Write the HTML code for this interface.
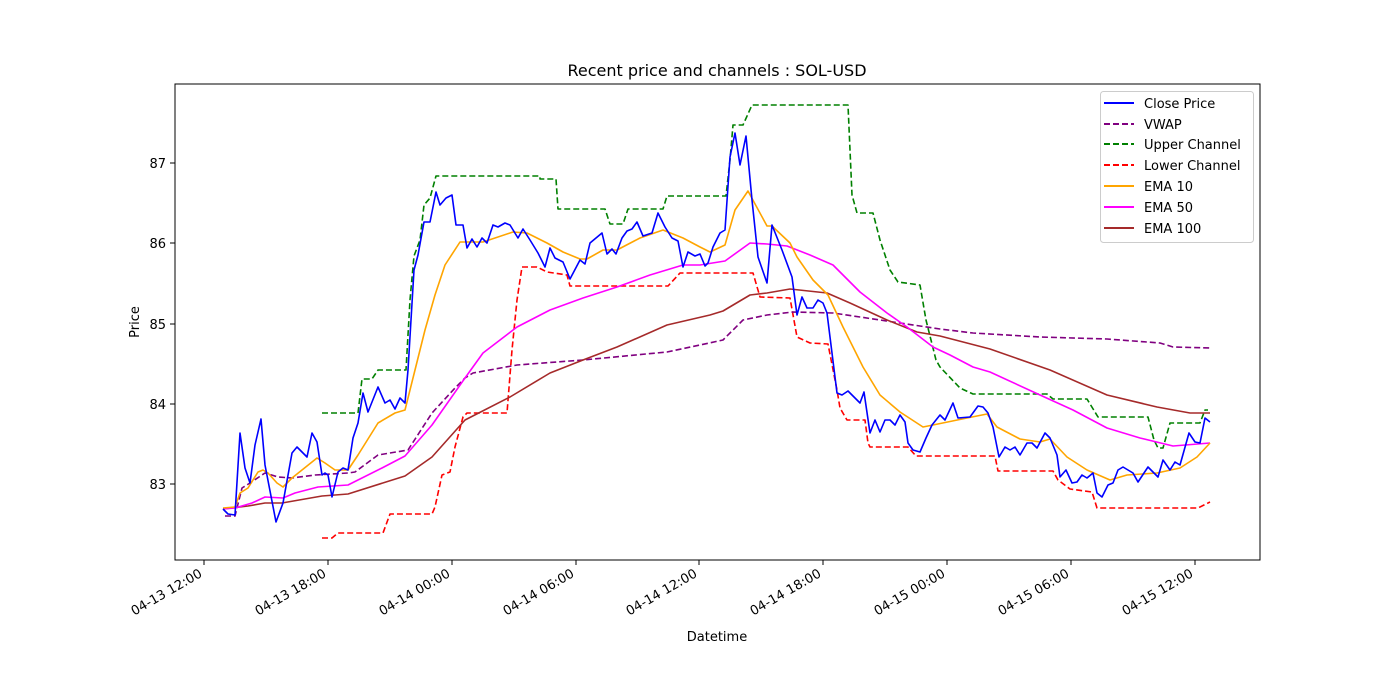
<!DOCTYPE html>
<html><head><style>body{margin:0;background:#fff}svg{display:block}text{font-family:"DejaVu Sans","Liberation Sans",sans-serif;fill:#000}</style></head><body>
<svg width="1400" height="700" xmlns="http://www.w3.org/2000/svg">
<rect width="1400" height="700" fill="#fff"/>
<text x="717" y="76" font-size="16" text-anchor="middle">Recent price and channels : SOL-USD</text>
<g fill="none" stroke-width="1.6" stroke-linejoin="round">
<polyline stroke="#008000" stroke-dasharray="6,3" points="322,413 358,413 362,379 372,379 378,370 406,370 410,300 414,256 420,240 424,205 430,198 436,176 540,176 540,179 556,179 558,209 605,209 610,224 623,224 628,209 663,209 667,196 726,196 730,160 733,125 743,125 752,105 848,105 852,195 857,213 873,213 880,240 890,270 898,282 920,285 926,320 936,360 940,367 960,388 973,394 1047,394 1053,399 1087,399 1098,417 1148,417 1154,440 1158,448 1163,448 1170,423 1200,423 1205,410 1208,410"/>
<polyline stroke="#ff0000" stroke-dasharray="6,3" points="322,538 332,538 338,533 383,533 390,514 432,514 435,507 442,475 450,472 455,447 463,417 467,413 507,413 512,350 517,300 522,267 537,267 547,272 567,275 570,286 668,286 680,273 753,273 760,297 790,298 797,337 810,343 828,344 837,390 840,408 847,420 865,420 868,443 870,447 908,447 916,456 995,456 998,471 1053,471 1058,480 1070,489 1092,492 1097,508 1198,508 1210,502"/>
<polyline stroke="#800080" stroke-dasharray="6,3" points="225,516 235,516 242,488 250,483 265,473 278,477 292,478 315,475 348,473 355,472 378,455 408,450 432,413 455,388 465,378 473,373 517,365 583,360 667,352 700,345 723,340 743,320 767,315 793,312 833,313 860,317 900,323 940,329 973,333 1040,337 1107,339 1160,343 1173,347 1210,348"/>
<polyline stroke="#a52a2a" points="223,509 248,506 265,503 282,503 322,496 348,494 405,476 432,457 465,420 510,397 550,373 583,360 617,347 667,325 710,315 723,311 750,295 767,293 790,289 827,293 850,303 887,320 917,332 940,336 990,349 1050,370 1107,395 1157,407 1190,413 1210,413"/>
<polyline stroke="#ff00ff" points="223,509 235,508 252,503 265,497 283,498 295,493 318,487 348,485 382,468 405,456 432,425 465,378 483,353 517,327 550,310 583,298 617,287 650,275 683,265 700,265 725,261 750,243 767,244 787,246 810,255 833,265 860,292 887,313 907,327 933,347 950,355 973,367 990,372 1040,395 1073,410 1107,428 1140,438 1173,446 1210,443"/>
<polyline stroke="#ffa500" points="223,508 235,507 240,493 248,488 258,472 263,470 268,473 277,483 283,487 292,478 302,470 317,458 325,463 335,470 348,470 358,455 378,423 395,413 405,410 415,370 425,330 435,295 445,265 460,242 483,242 513,232 527,233 547,243 563,252 580,259 587,259 603,250 617,250 640,238 663,230 683,238 700,247 710,252 725,245 735,210 748,191 767,226 772,226 790,243 797,257 813,280 828,295 843,327 863,367 880,395 900,412 923,427 933,425 967,418 987,414 997,427 1020,439 1040,442 1050,439 1067,457 1087,470 1110,480 1127,475 1157,473 1180,468 1197,457 1210,443"/>
<polyline stroke="#0000ff" points="223,509 228,514 235,515 240,433 245,468 250,483 255,445 261,419 265,465 276,522 283,503 292,453 297,447 307,457 312,433 317,442 322,475 325,473 328,475 332,497 338,472 343,468 348,470 353,438 358,423 363,393 368,412 378,387 385,403 390,400 395,409 400,398 405,403 408,370 414,270 418,255 424,222 430,222 436,192 440,205 446,198 452,195 456,225 463,225 467,248 472,239 477,247 482,238 487,243 493,225 498,227 505,223 510,225 518,238 523,229 530,240 538,253 545,267 550,248 555,258 563,262 570,279 580,260 585,264 590,243 602,233 607,254 612,249 616,254 622,238 627,231 632,229 637,222 643,236 652,233 658,213 665,227 672,238 678,241 683,267 688,252 695,256 700,254 705,266 708,263 713,247 720,233 725,230 730,157 735,133 740,165 746,136 752,200 758,257 767,283 772,225 782,250 792,277 797,315 802,297 807,308 813,308 818,300 823,303 827,313 837,393 842,395 848,391 860,403 864,392 870,433 875,420 880,432 885,420 890,420 895,425 900,415 905,422 908,443 913,450 920,452 926,438 932,425 940,415 945,420 953,403 958,418 970,417 978,406 983,407 988,413 993,427 999,457 1005,447 1010,450 1015,447 1020,455 1027,443 1032,443 1037,448 1045,433 1050,438 1057,455 1060,477 1066,470 1072,483 1077,482 1082,475 1087,478 1093,473 1097,493 1102,497 1108,485 1113,483 1118,470 1123,467 1133,473 1138,482 1148,467 1158,477 1163,460 1170,470 1175,462 1180,465 1189,433 1195,442 1200,443 1205,418 1210,422"/>
</g>
<rect x="175" y="84" width="1085" height="476" fill="none" stroke="#000" stroke-width="1"/>
<g stroke="#000">
<line x1="170" y1="484" x2="175" y2="484"/><line x1="170" y1="404" x2="175" y2="404"/><line x1="170" y1="324" x2="175" y2="324"/><line x1="170" y1="243" x2="175" y2="243"/><line x1="170" y1="163" x2="175" y2="163"/>
<line x1="204" y1="560" x2="204" y2="565"/><line x1="328" y1="560" x2="328" y2="565"/><line x1="452" y1="560" x2="452" y2="565"/><line x1="576" y1="560" x2="576" y2="565"/><line x1="699" y1="560" x2="699" y2="565"/><line x1="823" y1="560" x2="823" y2="565"/><line x1="947" y1="560" x2="947" y2="565"/><line x1="1071" y1="560" x2="1071" y2="565"/><line x1="1195" y1="560" x2="1195" y2="565"/>
</g>
<g font-size="13" text-anchor="end">
<text x="166" y="489">83</text><text x="166" y="409">84</text><text x="166" y="329">85</text><text x="166" y="248">86</text><text x="166" y="168">87</text>
</g>
<g font-size="13" text-anchor="end">
<text transform="translate(203,576) rotate(-30)">04-13 12:00</text>
<text transform="translate(327,576) rotate(-30)">04-13 18:00</text>
<text transform="translate(451,576) rotate(-30)">04-14 00:00</text>
<text transform="translate(575,576) rotate(-30)">04-14 06:00</text>
<text transform="translate(698,576) rotate(-30)">04-14 12:00</text>
<text transform="translate(822,576) rotate(-30)">04-14 18:00</text>
<text transform="translate(946,576) rotate(-30)">04-15 00:00</text>
<text transform="translate(1070,576) rotate(-30)">04-15 06:00</text>
<text transform="translate(1194,576) rotate(-30)">04-15 12:00</text>
</g>
<text x="717" y="641" font-size="13" text-anchor="middle">Datetime</text>
<text transform="translate(139,322) rotate(-90)" font-size="13" text-anchor="middle">Price</text>
<rect x="1100.5" y="91.5" width="153" height="151" rx="3" fill="#fff" fill-opacity="0.8" stroke="#ccc"/>
<g stroke-width="2">
<line x1="1104" y1="103" x2="1134" y2="103" stroke="#0000ff"/>
<line x1="1104" y1="124" x2="1134" y2="124" stroke="#800080" stroke-dasharray="6,3"/>
<line x1="1104" y1="144" x2="1134" y2="144" stroke="#008000" stroke-dasharray="6,3"/>
<line x1="1104" y1="165" x2="1134" y2="165" stroke="#ff0000" stroke-dasharray="6,3"/>
<line x1="1104" y1="186" x2="1134" y2="186" stroke="#ffa500"/>
<line x1="1104" y1="207" x2="1134" y2="207" stroke="#ff00ff"/>
<line x1="1104" y1="228" x2="1134" y2="228" stroke="#a52a2a"/>
</g>
<g font-size="13">
<text x="1144" y="108">Close Price</text><text x="1144" y="129">VWAP</text><text x="1144" y="149">Upper Channel</text><text x="1144" y="170">Lower Channel</text><text x="1144" y="191">EMA 10</text><text x="1144" y="212">EMA 50</text><text x="1144" y="233">EMA 100</text>
</g>
</svg>
</body></html>
